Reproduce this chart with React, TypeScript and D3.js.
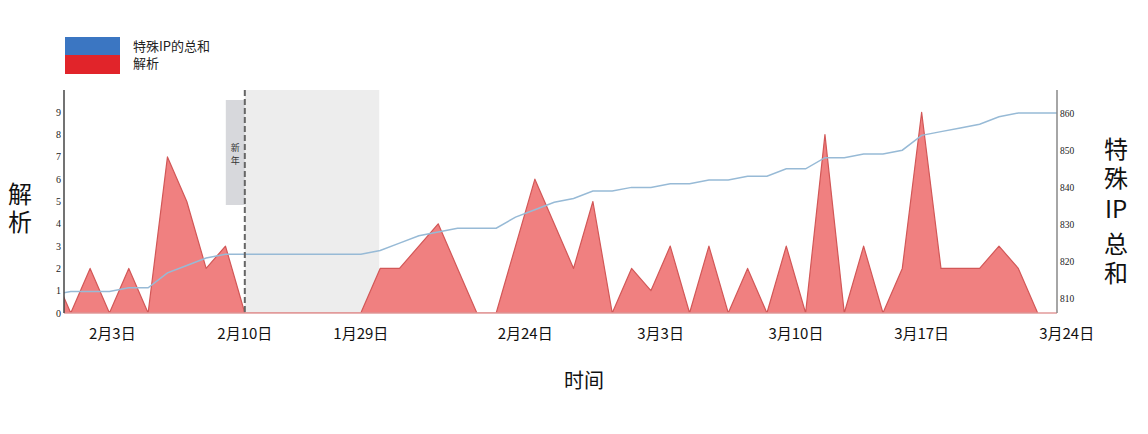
import * as d3 from "d3";

// daily values, index 0 = the day before the first visible point
const parseCounts = [
  2, 0, 2, 0, 2, 0, 7, 5, 2, 3, 0, 0, 0, 0, 0, 0, 0, 2, 2, 3, 4, 2, 0, 0, 3, 6,
  4, 2, 5, 0, 2, 1, 3, 0, 3, 0, 2, 0, 3, 0, 8, 0, 3, 0, 2, 9, 2, 2, 2, 3, 2, 0,
];
const ipTotals = [
  811, 812, 812, 812, 813, 813, 817, 819, 821, 822, 822, 822, 822, 822, 822,
  822, 822, 823, 825, 827, 828, 829, 829, 829, 832, 834, 836, 837, 839, 839,
  840, 840, 841, 841, 842, 842, 843, 843, 845, 845, 848, 848, 849, 849, 850,
  854, 855, 856, 857, 859, 860, 860, 860,
];
const xTickLabels = ["2月3日", "2月10日", "1月29日", "2月24日", "3月3日", "3月10日", "3月17日", "3月24日"];
const xTickIndex = [3.15, 10, 16, 24.5, 31.5, 38.5, 45, 52.5];
const leftTicks = [0, 1, 2, 3, 4, 5, 6, 7, 8, 9];
const rightTicks = [810, 820, 830, 840, 850, 860];
const holiday = { start: 10, end: 16.95, label: ["新", "年"] };

const W = 1148;
const H = 434;
const PLOT = { left: 64, right: 1057, top: 90, bottom: 313 };

const CJK = "'Noto Sans CJK SC', 'Noto Sans', sans-serif";
const SERIF = "'Liberation Serif', 'DejaVu Serif', serif";

// stacked vertical text, one column
const Vert = ({ x, y, text, size, gap }: { x: number; y: number; text: string; size: number; gap: number }) => (
  <text
    x={x}
    y={y}
    fontFamily={CJK}
    fontSize={size}
    fill="#111"
    style={{ writingMode: "vertical-rl", letterSpacing: gap }}
  >
    {text}
  </text>
);

export default function App() {
  const x = d3.scaleLinear().domain([0.65, 52]).range([PLOT.left, PLOT.right]);
  const yL = d3.scaleLinear().domain([0, 10]).range([PLOT.bottom, PLOT.top]);
  const yR = d3.scaleLinear().domain([806.2, 866.2]).range([PLOT.bottom, PLOT.top]);

  const area = d3
    .area<number>()
    .x((_, i) => x(i))
    .y0(yL(0))
    .y1((d) => yL(d));
  const line = d3
    .line<number>()
    .x((_, i) => x(i))
    .y((d) => yR(d));

  const hx0 = x(holiday.start);
  const hx1 = x(holiday.end);

  return (
    <svg
      width={W}
      height={H}
      style={{ position: "absolute", left: 0, top: 0, background: "#fff" }}
    >
      <defs>
        <clipPath id="plotClip">
          <rect
            x={PLOT.left}
            y={PLOT.top}
            width={PLOT.right - PLOT.left}
            height={PLOT.bottom - PLOT.top}
          />
        </clipPath>
      </defs>

      {/* legend */}
      <rect x={65} y={37} width={55} height={18} fill="#3b76c2" />
      <rect x={65} y={55} width={55} height={19} fill="#e1242a" />
      <text x={133} y={51} fontFamily={CJK} fontSize={13} fill="#222">
        特殊IP的总和
      </text>
      <text x={133} y={68} fontFamily={CJK} fontSize={13} fill="#222">
        解析
      </text>

      {/* holiday shading */}
      <rect
        x={hx0}
        y={PLOT.top}
        width={hx1 - hx0}
        height={PLOT.bottom - PLOT.top}
        fill="#ededed"
      />
      <rect x={hx0 - 19} y={100} width={19} height={105} fill="#d7d8dc" />
      {holiday.label.map((c, i) => (
        <text
          key={c}
          x={hx0 - 9.5}
          y={151 + i * 13}
          fontFamily={CJK}
          fontSize={9}
          fill="#333"
          textAnchor="middle"
        >
          {c}
        </text>
      ))}

      {/* series */}
      <g clipPath="url(#plotClip)">
        <path
          d={area(parseCounts) || ""}
          fill="#f08080"
          stroke="#d25757"
          strokeWidth={1.2}
          strokeLinejoin="round"
        />
        <path
          d={line(ipTotals) || ""}
          fill="none"
          stroke="#97bad6"
          strokeWidth={1.5}
        />
      </g>

      <line
        x1={hx0}
        x2={hx0}
        y1={PLOT.top}
        y2={PLOT.bottom}
        stroke="#666"
        strokeWidth={2}
        strokeDasharray="6,3"
      />

      {/* axes */}
      <line x1={PLOT.left} x2={PLOT.right} y1={PLOT.bottom} y2={PLOT.bottom} stroke="#e29a9a" strokeWidth={1.5} />
      <line x1={PLOT.left} x2={PLOT.left} y1={PLOT.top} y2={PLOT.bottom} stroke="#444" strokeWidth={1.5} />
      <line x1={PLOT.right} x2={PLOT.right} y1={PLOT.top} y2={PLOT.bottom} stroke="#888" strokeWidth={1.5} />

      {leftTicks.map((t) => (
        <text
          key={t}
          x={PLOT.left - 3}
          y={yL(t) + 3.5}
          textAnchor="end"
          fontFamily={SERIF}
          fontSize={10}
          fill="#222"
        >
          {t}
        </text>
      ))}
      {rightTicks.map((t) => (
        <text
          key={t}
          x={PLOT.right + 3}
          y={yR(t) + 3.5}
          fontFamily={SERIF}
          fontSize={9.5}
          fill="#222"
        >
          {t}
        </text>
      ))}
      {xTickLabels.map((t, i) => (
        <text
          key={t}
          x={x(xTickIndex[i])}
          y={339}
          textAnchor="middle"
          fontFamily={CJK}
          fontSize={15}
          fill="#111"
        >
          {t}
        </text>
      ))}

      {/* axis titles */}
      <Vert x={20} y={182} text="解析" size={24} gap={4} />
      <Vert x={1116} y={137} text="特殊" size={24} gap={5} />
      <text x={1116} y={218} fontFamily={CJK} fontSize={24} fill="#111" textAnchor="middle">
        IP
      </text>
      <Vert x={1116} y={232} text="总和" size={24} gap={5} />
      <text x={584} y={388} fontFamily={CJK} fontSize={20} fill="#111" textAnchor="middle">
        时间
      </text>
    </svg>
  );
}
